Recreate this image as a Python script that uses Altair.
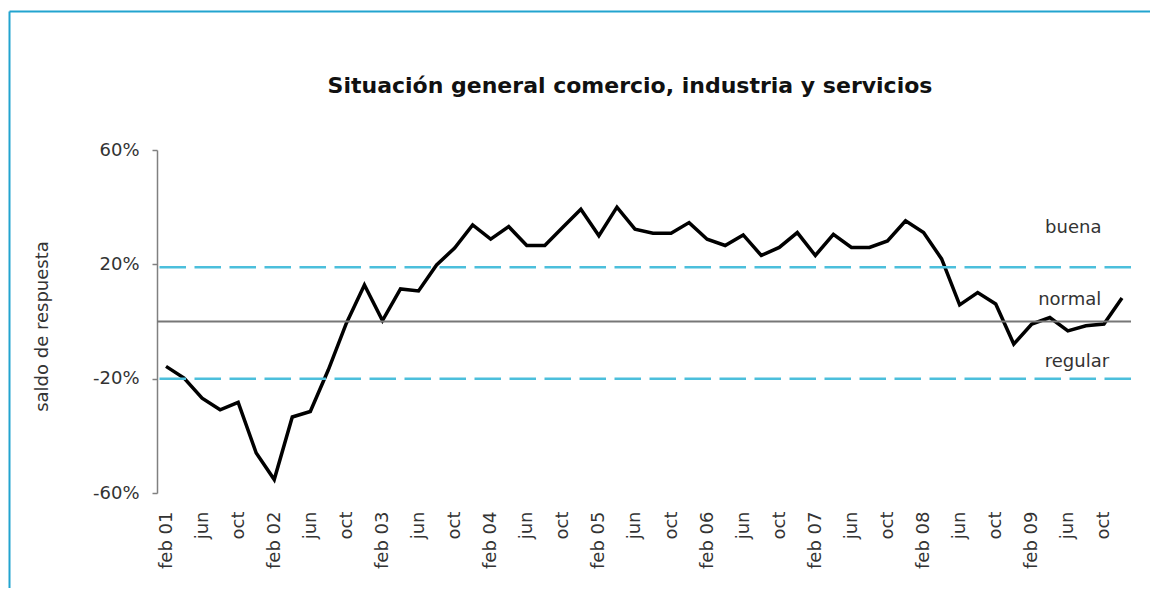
import json
import altair as alt
import pandas as pd

# ---- data -------------------------------------------------------------
years = ["01", "02", "03", "04", "05", "06", "07", "08", "09"]
months = ["feb", "abr", "jun", "ago", "oct", "dic"]
periods = [f"{m} {y}" for y in years for m in months]

saldo = [
    -15.7, -19.8, -26.8, -30.9, -28.3, -46.0,
    -55.3, -33.4, -31.5, -16.9, -0.6, 12.8,
    0.3, 11.4, 10.7, 19.8, 25.7, 33.8,
    28.8, 33.2, 26.6, 26.6, 33.0, 39.3,
    30.0, 40.0, 32.3, 30.9, 30.9, 34.6,
    28.8, 26.6, 30.3, 23.1, 25.9, 31.1,
    23.1, 30.5, 25.9, 25.9, 28.2, 35.2,
    31.1, 21.9, 5.8, 10.1, 6.1, -7.9,
    -0.9, 1.4, -3.3, -1.5, -0.9, 8.2,
]

# tick labels shown on the axis (every 4 months)
tick_labels = [
    "feb 01", "jun", "oct", "feb 02", "jun", "oct", "feb 03", "jun", "oct",
    "feb 04", "jun", "oct", "feb 05", "jun", "oct", "feb 06", "jun", "oct",
    "feb 07", "jun", "oct", "feb 08", "jun", "oct", "feb 09", "jun", "oct",
]
tick_index = [2 * i for i in range(len(tick_labels))]

y_ticks = [-60, -20, 20, 60]

ref_names = ["buena", "regular"]
ref_values = [19, -20]

ann_texts = ["buena", "normal", "regular"]
ann_x = [50.3, 50.1, 50.5]
ann_y = [32.7, 7.6, -14.0]

title_text = "Situación general comercio, industria y servicios"
y_title = "saldo de respuesta"

# ---- tables -------------------------------------------------------------
df = pd.DataFrame({"idx": list(range(len(saldo))), "periodo": periods, "saldo": saldo})
refs = pd.DataFrame({"name": ref_names, "v": ref_values})
anns = pd.DataFrame({"t": ann_texts, "x": ann_x, "y": ann_y})

label_map = {str(i): l for i, l in zip(tick_index, tick_labels)}
label_expr = f"{json.dumps(label_map)}[''+datum.value]"

FONT = "DejaVu Sans"
TXT = "#333333"
FS = 18
W, H = 974, 343

xscale = alt.Scale(domain=[-0.5, len(saldo) - 0.5], nice=False, zero=False)
yscale = alt.Scale(domain=[-60, 60], nice=False)

x_axis = alt.Axis(
    values=tick_index, labelExpr=label_expr, labelAngle=-90, labelFont=FONT,
    labelFontSize=FS, labelColor=TXT, domain=False, ticks=False, grid=False,
    labelPadding=18, title=None, labelOverlap=False, labelBound=False,
    labelFlush=False,
)
y_axis = alt.Axis(
    values=y_ticks, labelExpr="datum.value + '%'", labelFont=FONT, labelFontSize=FS,
    labelColor=TXT, domainColor="#808080", domainWidth=1.5, tickColor="#808080",
    tickWidth=1.5, tickSize=5, labelPadding=13, grid=False, labelOverlap=False,
    title=y_title, titleFont=FONT, titleFontSize=FS, titleFontWeight="normal",
    titleColor=TXT, titleAngle=-90, titleX=-115, titleY=176, titleAlign="center",
    titleBaseline="middle",
)

base = alt.Chart(df)

line = base.mark_line(color="black", strokeWidth=3.5, strokeJoin="miter").encode(
    x=alt.X("idx:Q", scale=xscale, axis=x_axis),
    y=alt.Y("saldo:Q", scale=yscale, axis=y_axis),
)

zero = alt.Chart(pd.DataFrame({"v": [0]})).mark_rule(color="#777777", strokeWidth=2).encode(
    y=alt.Y("v:Q", scale=yscale, axis=y_axis),
)

dashed = alt.Chart(refs).mark_rule(
    color="#4cbfdc", strokeWidth=2.5, strokeDash=[26.5, 8.5]
).encode(y=alt.Y("v:Q", scale=yscale, axis=y_axis))

ann = alt.Chart(anns).mark_text(
    font=FONT, fontSize=FS, color=TXT, align="center", baseline="middle"
).encode(
    x=alt.X("x:Q", scale=xscale, axis=x_axis),
    y=alt.Y("y:Q", scale=yscale, axis=y_axis),
    text="t:N",
)

frame_data = alt.Data(values=[{"k": 1}])
frame_top = alt.Chart(frame_data).mark_rule(color="#22a4cf", strokeWidth=2).encode(
    x=alt.value(-147.5), x2=alt.value(1000), y=alt.value(-138.5)
)
frame_left = alt.Chart(frame_data).mark_rule(color="#22a4cf", strokeWidth=2).encode(
    x=alt.value(-147.5), y=alt.value(-138.5), y2=alt.value(460)
)

title = alt.Chart(alt.Data(values=[{"t": title_text}])).mark_text(
    font=FONT, fontSize=22, fontWeight="bold", color="#111111",
    align="center", baseline="middle",
).encode(x=alt.value(473), y=alt.value(-64), text="t:N")

chart = alt.layer(line, zero, dashed, ann, frame_top, frame_left, title).properties(
    width=W, height=H,
    padding={"left": 149, "top": 142, "right": 19, "bottom": 95},
    autosize=alt.AutoSizeParams(type="none"),
    background="white",
).configure_view(stroke=None).configure_axis(labelOverlap=False)

chart.save("out.html", embed_options={"renderer": "svg", "actions": False})
